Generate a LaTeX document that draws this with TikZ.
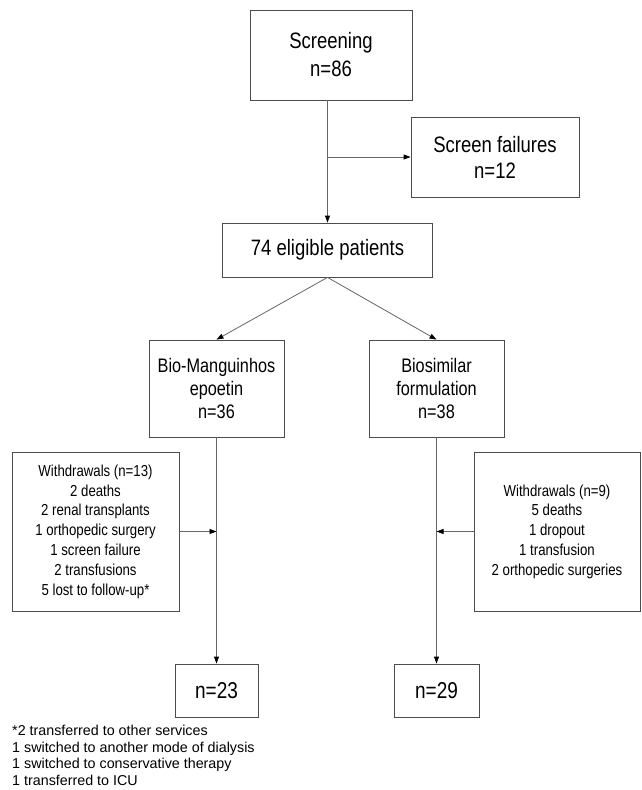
\documentclass[tikz,border=0pt]{standalone}
\usepackage{fontspec}
\setmainfont{Liberation Sans}
\newfontfamily\narrowsf[FakeStretch=0.83]{Liberation Sans}
\usetikzlibrary{positioning,arrows.meta}

\begin{document}
\begin{tikzpicture}[x=1pt, y=-1pt, >={Triangle[length=7pt,width=5pt,color=black]},
    box/.style={draw=black!70, line width=0.8pt, align=center, inner sep=0pt},
    link/.style={draw=black!60, line width=0.8pt, ->}]
\useasboundingbox (0,0) rectangle (641,790);

% screening
  \node[box, minimum width=162pt, minimum height=90pt,
        font=\narrowsf\fontsize{22.3pt}{28pt}\selectfont] (screen) at (331,55) {Screening\\n=86};
  \node[box, minimum width=168pt, minimum height=80pt,
        font=\narrowsf\fontsize{22.3pt}{26pt}\selectfont] (fail) at (495,157) {Screen failures\\n=12};
  \node[box, minimum width=210pt, minimum height=54pt,
        font=\narrowsf\fontsize{22.3pt}{26pt}\selectfont] (elig) at (327.5,250) {74 eligible patients};

% two arms
  \node[box, minimum width=135pt, minimum height=97pt,
        font=\narrowsf\fontsize{19.6pt}{23pt}\selectfont] (bio) at (216.5,388.5) {Bio-Manguinhos\\epoetin\\n=36};
  \node[box, minimum width=135pt, minimum height=97pt,
        font=\narrowsf\fontsize{19.6pt}{23pt}\selectfont] (bsim) at (436.5,388.5) {Biosimilar\\formulation\\n=38};

% withdrawals
  \node[box, minimum width=167pt, minimum height=159pt,
        font=\narrowsf\fontsize{15.9pt}{19.8pt}\selectfont] (wleft) at (95.5,531.5)
        {Withdrawals (n=13)\\2 deaths\\2 renal transplants\\1 orthopedic surgery\\1 screen failure\\2 transfusions\\5 lost to follow-up*};
  \node[box, minimum width=166pt, minimum height=159pt,
        font=\narrowsf\fontsize{15.9pt}{19.8pt}\selectfont] (wright) at (557,531.5)
        {Withdrawals (n=9)\\5 deaths\\1 dropout\\1 transfusion\\2 orthopedic surgeries};

% completed
  \node[box, minimum width=83pt, minimum height=53pt,
        font=\narrowsf\fontsize{22.9pt}{26pt}\selectfont] (done1) at (216.5,690.5) {n=23};
  \node[box, minimum width=85pt, minimum height=53pt,
        font=\narrowsf\fontsize{22.9pt}{26pt}\selectfont] (done2) at (436.5,690.5) {n=29};

  \node[anchor=north west, align=left, inner sep=0pt,
        font=\fontsize{14.3pt}{16.5pt}\selectfont] (note) at (12,725)
        {*2 transferred to other services\\1 switched to another mode of dialysis\\1 switched to conservative therapy\\1 transferred to ICU};

% arrows
  \draw[link] (screen.south -| elig.north) -- (elig.north);
  \draw[link] (elig.north |- fail.west) -- (fail.west);
  \draw[link] (elig.south) -- (bio.north);
  \draw[link] (elig.south) -- (bsim.north);
  \draw[link] (bio.south) -- (done1.north);
  \draw[link] (bsim.south) -- (done2.north);
  \draw[link] (wleft.east) -- (wleft.east -| bio.south);
  \draw[link] (wright.west) -- (wright.west -| bsim.south);

\end{tikzpicture}
\end{document}
